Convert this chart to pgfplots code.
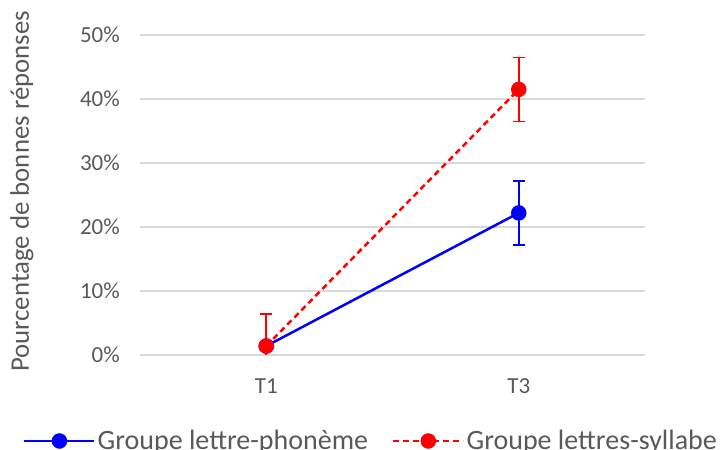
\documentclass[border=0pt]{standalone}
\usepackage{fontspec}
\setmainfont{Carlito}
\usepackage{pgfplots}
\pgfplotsset{compat=1.18}
\definecolor{txt}{HTML}{595959}
\definecolor{grd}{HTML}{D9D9D9}
\definecolor{bl}{HTML}{0000FF}
\definecolor{rd}{HTML}{FF0000}
\begin{document}
\begin{tikzpicture}
\path[use as bounding box] (0,0) rectangle (720bp,450bp);
\begin{axis}[
  at={(140bp,95bp)}, anchor=south west,
  scale only axis, width=505bp, height=320bp,
  xmin=-0.5, xmax=1.5, ymin=0, ymax=50,
  xtick={0,1}, xticklabels={T1,T3},
  ytick={0,10,20,30,40,50}, yticklabels={0\%,10\%,20\%,30\%,40\%,50\%},
  axis line style={draw=none},
  major tick style={draw=none},
  ymajorgrids, grid style={grd, line width=1.5bp},
  tick label style={font=\fontsize{23bp}{27bp}\selectfont, text=txt},
  yticklabel style={inner sep=0pt, anchor=east, xshift=-20bp},
  xticklabel style={inner sep=0pt, anchor=north, yshift=-23bp},
  ylabel={Pourcentage de bonnes réponses},
  ylabel style={at={(rel axis cs:-0.2337,0.511)}, anchor=center, font=\fontsize{26.8bp}{30bp}\selectfont, text=txt},
  legend columns=2,
  legend style={at={(rel axis cs:-0.2317,-0.26875)}, anchor=west, draw=none, fill=none, inner sep=0pt,
    font=\fontsize{28bp}{32bp}\selectfont, text=txt,
    /tikz/every even column/.append style={column sep=22bp}},
  legend cell align=left,
  legend image code/.code={
    \draw[#1, mark=none] (0bp,0bp) -- (70bp,0bp);
    \draw[#1, only marks] plot coordinates {(35bp,0bp)};
  },
  error bars/y dir=both, error bars/y explicit,
  error bars/error bar style={line width=1.5bp},
  error bars/error mark options={rotate=90, mark size=6bp, line width=1.5bp},
]
\addplot[bl, line width=2.5bp, mark=*, mark size=6.5bp, mark options={solid, fill=bl, draw=bl},
  error bars/error bar style={bl, line width=1.6bp, solid},
  error bars/error mark options={bl, rotate=90, mark size=6bp, line width=1.6bp, solid}]
  coordinates {(0,1.4) +- (0,0) (1,22.2) +- (0,5)};
\addlegendentry{Groupe lettre-phonème}
\addplot[rd, line width=2.5bp, dash pattern=on 6bp off 4bp, mark=*, mark size=6.5bp, mark options={solid, fill=rd, draw=rd},
  error bars/error bar style={rd, line width=1.6bp, solid},
  error bars/error mark options={rd, rotate=90, mark size=6bp, line width=1.6bp, solid}]
  coordinates {(0,1.4) += (0,5) -= (0,5) (1,41.5) += (0,5) -= (0,5)};
\addlegendentry{Groupe lettres-syllabe}
\end{axis}
\end{tikzpicture}
\end{document}
